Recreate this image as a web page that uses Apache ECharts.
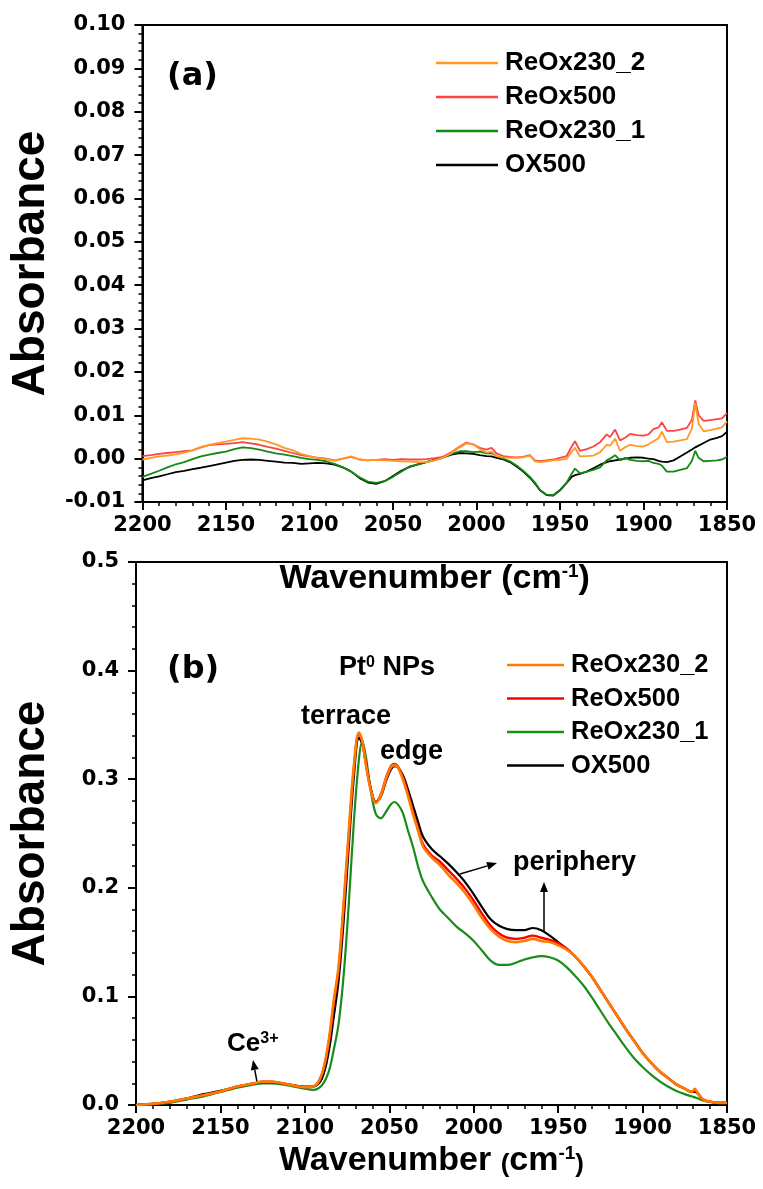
<!DOCTYPE html>
<html><head><meta charset="utf-8">
<script src="https://cdn.jsdelivr.net/npm/echarts/dist/echarts.min.js"></script>
<style>html,body{margin:0;padding:0;background:#fff}#c{width:763px;height:1189px}</style>
</head><body><div id="c"></div>
<script>
// ---------- Panel (a) data ----------
const wnA = [2200,2195,2190,2185,2180,2175,2170,2165,2160,2155,
 2150,2145,2140,2135,2130,2125,2120,2115,2110,2105,
 2100,2095,2090,2085,2080,2075,2070,2065,2060,2055,
 2050,2045,2040,2035,2030,2025,2020,2015,2010,2006,
 2002,1998,1994,1991,1988,1984,1980,1976,1972,1968,
 1965,1962,1958,1954,1950,1946,1943,1941,1938,1934,
 1930,1926,1922,1920,1917,1914,1911,1908,1904,1900,
 1897,1894,1891,1889,1886,1882,1878,1874,1871,1869,
 1867,1864,1860,1856,1853,1850];
const reox230_2_A = [-0.0002,0.0002,0.0005,0.0007,0.0010,0.0014,0.0019,0.0027,0.0032,0.0036,
 0.0039,0.0043,0.0047,0.0046,0.0044,0.0039,0.0033,0.0025,0.0019,0.0011,
 0.0006,0.0002,-0.0001,-0.0005,0.0000,0.0005,-0.0002,-0.0004,-0.0003,-0.0004,
 -0.0005,-0.0006,-0.0007,-0.0008,-0.0008,-0.0004,0.0002,0.0013,0.0026,0.0035,
 0.0033,0.0022,0.0014,0.0016,0.0006,0.0003,0.0002,0.0002,0.0003,0.0007,
 -0.0006,-0.0008,-0.0006,-0.0004,-0.0003,0.0000,0.0016,0.0025,0.0005,0.0006,
 0.0007,0.0015,0.0032,0.0030,0.0046,0.0018,0.0026,0.0032,0.0029,0.0028,
 0.0033,0.0040,0.0047,0.0062,0.0038,0.0039,0.0042,0.0045,0.0070,0.0128,
 0.0080,0.0063,0.0066,0.0069,0.0072,0.0086];
const reox500_A = [0.0006,0.0008,0.0011,0.0013,0.0015,0.0017,0.0019,0.0026,0.0031,0.0033,
 0.0034,0.0036,0.0038,0.0035,0.0032,0.0027,0.0023,0.0018,0.0013,0.0008,
 0.0005,0.0002,0.0000,-0.0004,0.0000,0.0004,-0.0002,-0.0004,-0.0003,-0.0001,
 -0.0003,-0.0001,-0.0002,-0.0002,-0.0001,0.0001,0.0004,0.0015,0.0028,0.0037,
 0.0033,0.0025,0.0021,0.0025,0.0012,0.0006,0.0004,0.0003,0.0004,0.0008,
 -0.0004,-0.0006,-0.0004,-0.0002,0.0002,0.0006,0.0028,0.0040,0.0018,0.0022,
 0.0028,0.0038,0.0056,0.0050,0.0067,0.0042,0.0048,0.0057,0.0054,0.0053,
 0.0056,0.0068,0.0072,0.0084,0.0064,0.0064,0.0067,0.0071,0.0090,0.0134,
 0.0100,0.0087,0.0089,0.0091,0.0093,0.0105];
const reox230_1_A = [-0.0042,-0.0035,-0.0028,-0.0020,-0.0013,-0.0008,-0.0001,0.0005,0.0009,0.0013,
 0.0016,0.0022,0.0026,0.0024,0.0021,0.0016,0.0012,0.0009,0.0006,0.0002,
 -0.0001,-0.0003,-0.0006,-0.0012,-0.0020,-0.0030,-0.0043,-0.0053,-0.0056,-0.0052,
 -0.0042,-0.0030,-0.0018,-0.0013,-0.0008,-0.0003,0.0002,0.0011,0.0017,0.0017,
 0.0015,0.0016,0.0012,0.0013,0.0006,0.0000,-0.0006,-0.0016,-0.0028,-0.0042,
 -0.0055,-0.0072,-0.0083,-0.0084,-0.0072,-0.0055,-0.0035,-0.0023,-0.0034,-0.0030,
 -0.0026,-0.0020,-0.0004,0.0000,0.0008,-0.0004,0.0002,-0.0003,-0.0005,-0.0006,
 -0.0005,-0.0010,-0.0012,-0.0016,-0.0030,-0.0030,-0.0026,-0.0022,-0.0005,0.0018,
 0.0002,-0.0006,-0.0005,-0.0004,-0.0002,0.0004];
const ox500_A = [-0.0050,-0.0045,-0.0041,-0.0036,-0.0031,-0.0028,-0.0024,-0.0021,-0.0017,-0.0013,
 -0.0009,-0.0005,-0.0003,-0.0002,-0.0003,-0.0005,-0.0007,-0.0009,-0.0010,-0.0012,
 -0.0011,-0.0010,-0.0011,-0.0014,-0.0020,-0.0030,-0.0045,-0.0055,-0.0058,-0.0052,
 -0.0040,-0.0028,-0.0019,-0.0013,-0.0008,-0.0003,0.0003,0.0009,0.0013,0.0012,
 0.0011,0.0008,0.0006,0.0005,0.0002,-0.0002,-0.0008,-0.0018,-0.0030,-0.0044,
 -0.0057,-0.0073,-0.0084,-0.0085,-0.0073,-0.0056,-0.0042,-0.0038,-0.0035,-0.0030,
 -0.0022,-0.0014,-0.0008,-0.0006,-0.0004,-0.0002,0.0000,0.0002,0.0003,0.0002,
 0.0000,-0.0001,-0.0005,-0.0007,-0.0008,-0.0004,0.0005,0.0014,0.0021,0.0026,
 0.0030,0.0036,0.0044,0.0048,0.0052,0.0062];

// ---------- Panel (b) data ----------
const wnB = [2200,2190,2180,2170,2160,2150,2140,2130,2125,2120,
 2110,2100,2095,2090,2086,2083,2080,2077,2074,2071,
 2068,2066,2064,2061,2058,2055,2052,2049,2047,2045,
 2042,2039,2036,2033,2030,2025,2020,2015,2010,2005,
 2000,1995,1990,1985,1980,1975,1970,1965,1960,1955,
 1950,1945,1940,1935,1930,1925,1920,1915,1910,1905,
 1900,1895,1890,1885,1880,1875,1871,1869,1867,1864,
 1860,1855,1850];
const reox230_2_B = [0.000,0.001,0.003,0.006,0.009,0.0125,0.017,0.020,0.0215,0.0215,
 0.019,0.0165,0.017,0.028,0.058,0.095,0.128,0.187,0.252,0.312,
 0.343,0.335,0.315,0.290,0.278,0.285,0.300,0.311,0.313,0.311,
 0.300,0.285,0.268,0.253,0.238,0.228,0.221,0.212,0.204,0.195,
 0.184,0.172,0.162,0.155,0.151,0.150,0.151,0.153,0.151,0.150,
 0.147,0.143,0.137,0.128,0.118,0.106,0.094,0.082,0.070,0.059,
 0.048,0.039,0.031,0.025,0.019,0.015,0.012,0.015,0.010,0.005,
 0.003,0.002,0.002];
const reox500_B = [0.000,0.001,0.003,0.006,0.009,0.0125,0.017,0.020,0.0215,0.0215,
 0.019,0.0165,0.017,0.028,0.056,0.092,0.125,0.183,0.248,0.309,
 0.342,0.335,0.316,0.291,0.279,0.286,0.301,0.312,0.314,0.312,
 0.302,0.287,0.270,0.255,0.240,0.230,0.224,0.216,0.208,0.199,
 0.188,0.176,0.165,0.158,0.154,0.153,0.154,0.156,0.154,0.152,
 0.149,0.144,0.137,0.128,0.118,0.106,0.094,0.082,0.070,0.059,
 0.048,0.039,0.031,0.025,0.019,0.015,0.012,0.013,0.010,0.005,
 0.003,0.002,0.002];
const reox230_1_B = [0.000,0.001,0.002,0.005,0.008,0.012,0.016,0.019,0.020,0.020,
 0.018,0.015,0.014,0.018,0.030,0.050,0.075,0.120,0.185,0.260,
 0.318,0.335,0.322,0.290,0.268,0.264,0.270,0.277,0.279,0.277,
 0.269,0.253,0.238,0.220,0.206,0.192,0.180,0.172,0.164,0.158,
 0.151,0.142,0.133,0.129,0.129,0.131,0.134,0.136,0.137,0.136,
 0.133,0.127,0.119,0.110,0.099,0.087,0.075,0.064,0.053,0.043,
 0.035,0.028,0.022,0.017,0.013,0.010,0.008,0.007,0.006,0.004,
 0.003,0.002,0.002];
const ox500_B = [0.000,0.001,0.003,0.006,0.010,0.013,0.017,0.020,0.021,0.021,
 0.019,0.017,0.017,0.024,0.048,0.080,0.115,0.170,0.238,0.302,
 0.338,0.333,0.316,0.292,0.279,0.284,0.298,0.309,0.312,0.311,
 0.304,0.291,0.276,0.261,0.247,0.236,0.229,0.222,0.214,0.205,
 0.194,0.182,0.171,0.165,0.162,0.161,0.161,0.163,0.161,0.156,
 0.150,0.144,0.137,0.128,0.118,0.106,0.094,0.082,0.070,0.059,
 0.048,0.039,0.031,0.025,0.019,0.015,0.012,0.012,0.010,0.005,
 0.003,0.002,0.002];

const legendNames = ['ReOx230_2','ReOx500','ReOx230_1','OX500'];
const xTicksFrom = 1850, xTicksTo = 2200, xStep = 50;

// ---------- styling ----------
const DJ = 'DejaVu Sans';
const AR = 'Liberation Sans';
const colA = {'ReOx230_2':'#FF9A22','ReOx500':'#FF4242','ReOx230_1':'#128A12','OX500':'#000000'};
const colB = {'ReOx230_2':'#FF7A00','ReOx500':'#FF0000','ReOx230_1':'#1A8C1A','OX500':'#000000'};

const pairs = (xs, ys) => xs.map((x, i) => [x, ys[i]]);

function xAxisCfg(gi, name, gap, rich) {
  return {
    type:'value', gridIndex:gi, min:xTicksFrom, max:xTicksTo, interval:xStep, inverse:true,
    axisLine:{show:true, onZero:false, lineStyle:{color:'#000', width:2}},
    axisTick:{show:true, length:8, lineStyle:{color:'#000', width:2}},
    minorTick:{show:true, splitNumber:5, length:4, lineStyle:{color:'#000', width:1.5}},
    splitLine:{show:false}, minorSplitLine:{show:false},
    axisLabel:{color:'#000', fontFamily:DJ, fontWeight:'bold', fontSize:21, margin:13,
      formatter:v => String(Math.round(v))},
    name:name, nameLocation:'middle', nameGap:gap,
    nameTextStyle:{rich:rich}
  };
}
function yAxisCfg(gi, min, max, step, dec) {
  return {
    type:'value', gridIndex:gi, min:min, max:max, interval:step,
    axisLine:{show:true, onZero:false, lineStyle:{color:'#000', width:2}},
    axisTick:{show:true, length:8, lineStyle:{color:'#000', width:2}},
    minorTick:{show:true, splitNumber:5, length:4, lineStyle:{color:'#000', width:1.5}},
    splitLine:{show:false}, minorSplitLine:{show:false},
    axisLabel:{color:'#000', fontFamily:DJ, fontWeight:'bold', fontSize:21, margin:17,
      formatter:v => v.toFixed(dec)},
    name:'Absorbance', nameLocation:'middle', nameGap:82, nameRotate:90,
    nameTextStyle:{color:'#000', fontFamily:AR, fontWeight:'bold', fontSize:46}
  };
}
const richA = {
  t:{color:'#000', fontFamily:AR, fontWeight:'bold', fontSize:34},
  s:{color:'#000', fontFamily:AR, fontWeight:'bold', fontSize:19, verticalAlign:'top', padding:[0,0,14,0]}
};
const richB = {
  t:{color:'#000', fontFamily:AR, fontWeight:'bold', fontSize:34},
  p:{color:'#000', fontFamily:AR, fontWeight:'bold', fontSize:26, verticalAlign:'bottom', padding:[6,0,0,0]},
  s:{color:'#000', fontFamily:AR, fontWeight:'bold', fontSize:19, verticalAlign:'top', padding:[0,0,14,0]}
};

function mkSeries(name, xs, ys, gi, color, width, smooth, z) {
  return {
    name:name, type:'line', xAxisIndex:gi, yAxisIndex:gi, data:pairs(xs, ys),
    showSymbol:false, symbol:'none', smooth:smooth, z:z,
    lineStyle:{color:color, width:width}, itemStyle:{color:color},
    animation:false, emphasis:{disabled:true}
  };
}

function arrow(x1, y1, x2, y2) {
  const dx = x2 - x1, dy = y2 - y1, L = Math.hypot(dx, dy), ux = dx / L, uy = dy / L;
  const hl = 10, hw = 4;
  const bx = x2 - ux * hl, by = y2 - uy * hl;
  return [
    {type:'line', silent:true, shape:{x1:x1, y1:y1, x2:bx, y2:by}, style:{stroke:'#000', lineWidth:1.5}},
    {type:'polygon', silent:true, shape:{points:[[x2, y2], [bx - uy * hw, by + ux * hw], [bx + uy * hw, by - ux * hw]]}, style:{fill:'#000'}}
  ];
}
function txt(x, y, text, family, size, rich) {
  const st = {x:x, y:y, text:text, fill:'#000', fontFamily:family, fontWeight:'bold', fontSize:size,
    align:'left', verticalAlign:'middle'};
  if (rich) st.rich = rich;
  return {type:'text', silent:true, style:st};
}
const supRich = (size, sub) => ({
  m:{fill:'#000', fontFamily:AR, fontWeight:'bold', fontSize:size},
  s:{fill:'#000', fontFamily:AR, fontWeight:'bold', fontSize:sub, verticalAlign:'top'}
});

const chart = echarts.init(document.getElementById('c'), null, {renderer:'canvas'});
chart.setOption({
  animation:false,
  backgroundColor:'#fff',
  grid:[
    {left:134, right:36, top:25, height:477, show:true, borderColor:'#000', borderWidth:2, backgroundColor:'transparent'},
    {left:134, right:36, top:562, height:543, show:true, borderColor:'#000', borderWidth:2, backgroundColor:'transparent'}
  ],
  xAxis:[
    xAxisCfg(0, '{t|Wavenumber (cm}{s|-1}{t|)}', 60, richA),
    xAxisCfg(1, '{t|Wavenumber }{p|(}{t|cm}{s|-1}{p|)}', 39, richB)
  ],
  yAxis:[
    yAxisCfg(0, -0.01, 0.10, 0.01, 2),
    yAxisCfg(1, 0, 0.5, 0.1, 1)
  ],
  legend:[
    {orient:'vertical', left:431, top:45, itemWidth:62, itemHeight:2.5, itemGap:8, icon:'rect', selectedMode:false,
     textStyle:{color:'#000', fontFamily:AR, fontWeight:'bold', fontSize:26, lineHeight:26, padding:[0,0,0,2]},
     data:legendNames.map(n => ({name:n, itemStyle:{color:colA[n]}}))},
    {orient:'vertical', left:502, top:647, itemWidth:57, itemHeight:2.5, itemGap:7.5, icon:'rect', selectedMode:false,
     textStyle:{color:'#000', fontFamily:AR, fontWeight:'bold', fontSize:25.5, lineHeight:25, padding:[0,0,0,2]},
     data:legendNames.map(n => ({name:n, itemStyle:{color:colB[n]}}))}
  ],
  series:[
    mkSeries('OX500', wnA, ox500_A, 0, colA['OX500'], 1.8, false, 2),
    mkSeries('ReOx230_1', wnA, reox230_1_A, 0, colA['ReOx230_1'], 1.8, false, 3),
    mkSeries('ReOx500', wnA, reox500_A, 0, colA['ReOx500'], 1.8, false, 4),
    mkSeries('ReOx230_2', wnA, reox230_2_A, 0, colA['ReOx230_2'], 1.8, false, 5),
    mkSeries('ReOx230_1', wnB, reox230_1_B, 1, colB['ReOx230_1'], 2.2, 0.35, 2),
    mkSeries('OX500', wnB, ox500_B, 1, colB['OX500'], 2.2, 0.35, 3),
    mkSeries('ReOx500', wnB, reox500_B, 1, colB['ReOx500'], 2.4, 0.35, 4),
    mkSeries('ReOx230_2', wnB, reox230_2_B, 1, colB['ReOx230_2'], 2.6, 0.35, 5)
  ],
  graphic:[
    txt(167, 77, '(a)', DJ, 32),
    txt(167, 670, '(b)', DJ, 32),
    txt(339, 668, '{m|Pt}{s|0}{m| NPs}', AR, 27, supRich(27, 16)),
    txt(301, 717, 'terrace', AR, 27),
    txt(380, 752, 'edge', AR, 27),
    txt(513, 863, 'periphery', AR, 27),
    txt(227, 1044, '{m|Ce}{s|3+}', AR, 26, supRich(26, 16)),
    ...arrow(460, 874, 497, 863),
    ...arrow(544, 932, 544, 882),
    ...arrow(257, 1082, 253, 1060)
  ]
});
</script>
</body></html>
